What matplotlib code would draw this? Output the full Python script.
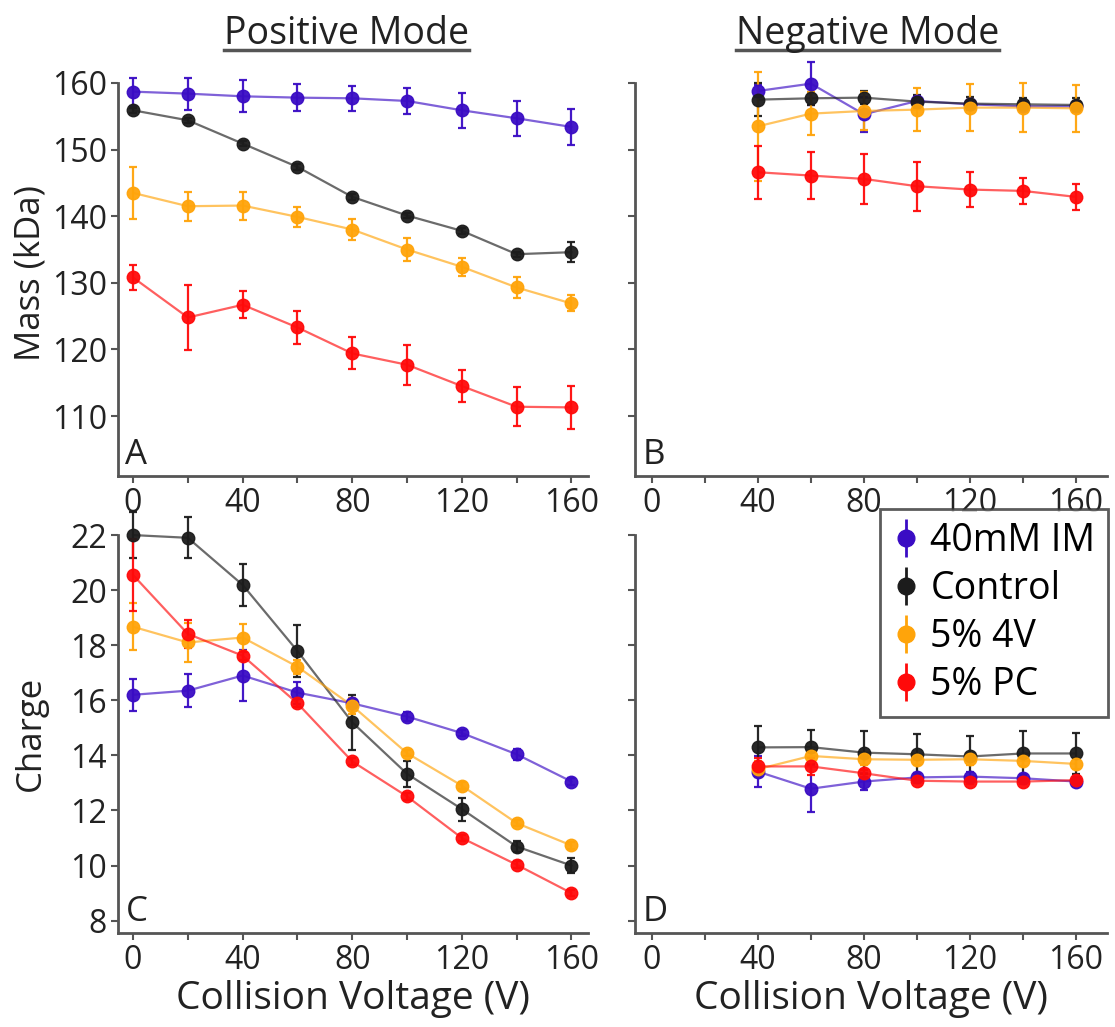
import numpy as np
import matplotlib.pyplot as plt
from matplotlib.lines import Line2D

plt.rcParams['font.family'] = ['Open Sans', 'DejaVu Sans']

# -----------------------------
# data
# -----------------------------
v_pos = [0, 20, 40, 60, 80, 100, 120, 140, 160]
v_neg = [40, 60, 80, 100, 120, 140, 160]

labels = ["40mM IM", "Control", "5% 4V", "5% PC"]
colors = ["#3a0cc4", "#1c1c1c", "#ffa40a", "#ff0a0a"]

# Mass, positive mode (kDa)
mass_pos = {
    "40mM IM": [158.7, 158.4, 158.0, 157.8, 157.7, 157.3, 155.9, 154.7, 153.4],
    "Control": [155.9, 154.4, 150.9, 147.4, 142.9, 140.1, 137.8, 134.3, 134.6],
    "5% 4V":   [143.5, 141.5, 141.6, 139.9, 138.0, 135.0, 132.4, 129.3, 126.9],
    "5% PC":   [130.8, 124.8, 126.7, 123.3, 119.4, 117.7, 114.5, 111.4, 111.3],
}
mass_pos_err = {
    "40mM IM": [2.1, 2.4, 2.4, 2.0, 1.9, 1.9, 2.6, 2.6, 2.7],
    "Control": [0.4, 0.4, 0.4, 0.4, 0.4, 0.4, 0.4, 0.4, 1.5],
    "5% 4V":   [3.9, 2.2, 2.1, 1.5, 1.6, 1.7, 1.3, 1.6, 1.2],
    "5% PC":   [1.9, 4.9, 2.0, 2.5, 2.4, 3.0, 2.4, 2.9, 3.2],
}

# Mass, negative mode (kDa)
mass_neg = {
    "40mM IM": [158.8, 159.9, 155.3, 157.3, 156.8, 156.5, 156.5],
    "Control": [157.5, 157.7, 157.8, 157.2, 156.9, 156.8, 156.7],
    "5% 4V":   [153.5, 155.4, 155.8, 156.0, 156.3, 156.3, 156.2],
    "5% PC":   [146.6, 146.1, 145.6, 144.5, 144.0, 143.8, 142.9],
}
mass_neg_err = {
    "40mM IM": [0.9, 3.2, 2.6, 0.7, 0.7, 0.7, 0.7],
    "Control": [2.5, 1.0, 1.0, 1.0, 1.0, 1.0, 1.0],
    "5% 4V":   [8.2, 3.2, 2.9, 3.2, 3.5, 3.7, 3.5],
    "5% PC":   [4.0, 3.5, 3.8, 3.7, 2.6, 2.0, 2.0],
}

# Charge, positive mode
charge_pos = {
    "40mM IM": [16.2, 16.35, 16.9, 16.28, 15.89, 15.41, 14.81, 14.04, 13.05],
    "Control": [22.0, 21.9, 20.19, 17.79, 15.2, 13.33, 12.05, 10.69, 10.0],
    "5% 4V":   [18.67, 18.1, 18.28, 17.22, 15.8, 14.08, 12.9, 11.54, 10.73],
    "5% PC":   [20.55, 18.41, 17.62, 15.89, 13.78, 12.51, 11.0, 10.03, 9.0],
}
charge_pos_err = {
    "40mM IM": [0.57, 0.59, 0.94, 0.4, 0.15, 0.15, 0.12, 0.2, 0.12],
    "Control": [0.85, 0.74, 0.76, 0.94, 1.0, 0.46, 0.42, 0.2, 0.27],
    "5% 4V":   [0.85, 0.7, 0.5, 0.25, 0.3, 0.12, 0.12, 0.12, 0.12],
    "5% PC":   [1.3, 0.51, 0.15, 0.15, 0.12, 0.12, 0.12, 0.12, 0.12],
}

# Charge, negative mode
charge_neg = {
    "40mM IM": [13.41, 12.79, 13.05, 13.2, 13.23, 13.17, 13.05],
    "Control": [14.29, 14.3, 14.1, 14.04, 13.96, 14.07, 14.07],
    "5% 4V":   [13.5, 13.98, 13.86, 13.84, 13.86, 13.8, 13.69],
    "5% PC":   [13.6, 13.6, 13.35, 13.08, 13.05, 13.05, 13.1],
}
charge_neg_err = {
    "40mM IM": [0.55, 0.85, 0.3, 0.15, 0.15, 0.15, 0.12],
    "Control": [0.79, 0.63, 0.78, 0.73, 0.73, 0.8, 0.76],
    "5% 4V":   [0.3, 0.2, 0.2, 0.2, 0.2, 0.2, 0.2],
    "5% PC":   [0.3, 0.3, 0.12, 0.1, 0.1, 0.1, 0.1],
}

TICK_FS = 23
LABEL_FS = 28
TXT = "#222222"
SPINE = "#555555"


def draw_panel(ax, x, vals, errs, letter, xlim, ylim, yticks, ylabels=True):
    for lab, col in zip(labels, colors):
        ax.plot(x, vals[lab], color=col, lw=1.6, alpha=0.65, zorder=2, clip_on=False)
        ax.errorbar(x, vals[lab], yerr=errs[lab], fmt="o", color=col, ms=9,
                    ecolor=col, elinewidth=1.6, capsize=3, capthick=1.6,
                    alpha=0.95, zorder=3, clip_on=False)
    ax.set_xlim(xlim)
    ax.set_ylim(ylim)
    ax.set_xticks(np.arange(0, 161, 20))
    ax.set_xticklabels([str(t) if t % 40 == 0 else "" for t in range(0, 161, 20)])
    ax.set_yticks(yticks)
    if ylabels:
        ax.set_yticklabels([str(t) for t in yticks])
    else:
        ax.set_yticklabels([])
    for s in ["top", "right"]:
        ax.spines[s].set_visible(False)
    for s in ["left", "bottom"]:
        ax.spines[s].set_color(SPINE)
        ax.spines[s].set_linewidth(2)
    ax.spines["left"].set_bounds(ylim[0], yticks[-1])
    ax.tick_params(direction="out", length=5, width=1.5, color=SPINE,
                   labelsize=TICK_FS, labelcolor=TXT, pad=3)
    ax.text(0.016, 0.01, letter, transform=ax.transAxes, fontsize=25,
            color=TXT, ha="left", va="bottom")


fig = plt.figure(figsize=(11.15, 10.27), dpi=100)

axA = fig.add_axes([0.1058, 0.5365, 0.4215, 0.3827])
axB = fig.add_axes([0.5695, 0.5365, 0.4233, 0.3827])
axC = fig.add_axes([0.1058, 0.0915, 0.4215, 0.3875])
axD = fig.add_axes([0.5695, 0.0915, 0.4233, 0.3875])

mass_ticks = [110, 120, 130, 140, 150, 160]
charge_ticks = [8, 10, 12, 14, 16, 18, 20, 22]

draw_panel(axA, v_pos, mass_pos, mass_pos_err, "A", (-5.5, 166), (101, 160), mass_ticks)
draw_panel(axB, v_neg, mass_neg, mass_neg_err, "B", (-6.4, 171.7), (101, 160), mass_ticks, ylabels=False)
draw_panel(axC, v_pos, charge_pos, charge_pos_err, "C", (-5.5, 166), (7.55, 22), charge_ticks)
draw_panel(axD, v_neg, charge_neg, charge_neg_err, "D", (-6.4, 171.7), (7.55, 22), charge_ticks, ylabels=False)

# y labels, placed so they sit left of the tick labels
fig.text(31 / 1115, 1 - 273 / 1027, "Mass (kDa)", fontsize=25, color=TXT,
         rotation=90, ha="center", va="center")
fig.text(31 / 1115, 1 - 733 / 1027, "Charge", fontsize=25, color=TXT,
         rotation=90, ha="center", va="center")
axC.set_xlabel("Collision Voltage (V)", fontsize=LABEL_FS, color=TXT, labelpad=2)
axD.set_xlabel("Collision Voltage (V)", fontsize=LABEL_FS, color=TXT, labelpad=2)

# column titles, underlined
titles = []
for xc, txt in [(0.311, "Positive Mode"), (0.778, "Negative Mode")]:
    titles.append(fig.text(xc, 0.957, txt, fontsize=27, color=TXT,
                           ha="center", va="baseline"))
fig.canvas.draw()
inv = fig.transFigure.inverted()
for t in titles:
    bb = t.get_window_extent().transformed(inv)
    fig.add_artist(Line2D([bb.x0, bb.x1], [0.951, 0.951], color="#555555",
                          lw=2.5, transform=fig.transFigure))

# legend in panel D
handles = []
for lab, col in zip(labels, colors):
    h = axD.errorbar([], [], yerr=[], fmt="o", color=col, ms=12, elinewidth=2,
                     capsize=4, capthick=2)
    handles.append(h)
leg = axD.legend(handles, labels, loc="upper right", bbox_to_anchor=(1.003, 1.066),
                 fontsize=27, frameon=True, fancybox=False, handlelength=0.7,
                 handletextpad=0.3, borderpad=0.35, labelspacing=0.27,
                 borderaxespad=0)
leg.get_frame().set_edgecolor("#333333")
leg.get_frame().set_linewidth(2)

fig.savefig("out.png", dpi=100)
